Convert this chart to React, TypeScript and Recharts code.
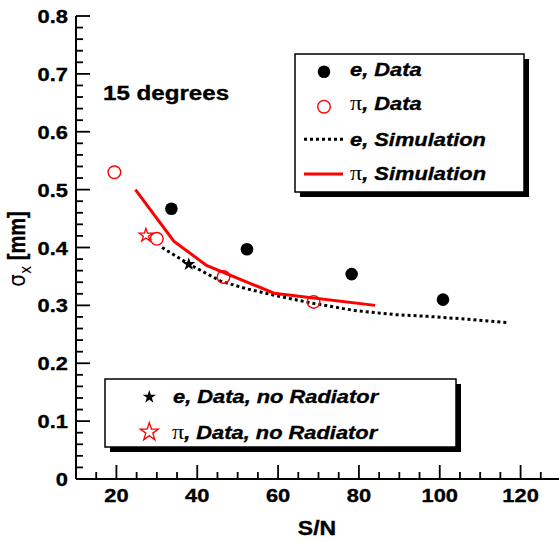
import React from 'react';
import { ComposedChart, Line, Scatter, XAxis, YAxis } from 'recharts';

// ---------- data ----------
const eDataX = [33.6, 52.3, 78.2, 100.8];
const eDataY = [0.467, 0.397, 0.354, 0.31];
const piDataX = [19.5, 30.0, 46.5, 68.8];
const piDataY = [0.53, 0.415, 0.349, 0.306];
const eNoRadX = [37.9];
const eNoRadY = [0.371];
const piNoRadX = [27.3];
const piNoRadY = [0.421];
const eSimX = [31.3, 38, 45.8, 52, 60, 69, 79, 89, 97, 107, 117];
const eSimY = [0.4, 0.371, 0.342, 0.329, 0.316, 0.303, 0.291, 0.284, 0.281, 0.276, 0.27];
const piSimX = [24.7, 34.2, 42.3, 59, 84];
const piSimY = [0.5, 0.411, 0.369, 0.321, 0.3];

const xMajorTicks = [20, 40, 60, 80, 100, 120];
const yMajorTicks = [0, 0.1, 0.2, 0.3, 0.4, 0.5, 0.6, 0.7, 0.8];
const xTicks = [15, 20, 25, 30, 35, 40, 45, 50, 55, 60, 65, 70, 75, 80, 85, 90, 95, 100, 105, 110, 115, 120, 125];
const yTicks = Array.from({ length: 41 }, (_, k) => Math.round(k * 2) / 100);

const zip = (xs: number[], ys: number[]) => xs.map((x, i) => ({ x, y: ys[i] }));
const eData = zip(eDataX, eDataY);
const piData = zip(piDataX, piDataY);
const eNoRad = zip(eNoRadX, eNoRadY);
const piNoRad = zip(piNoRadX, piNoRadY);
const eSim = zip(eSimX, eSimY);
const piSim = zip(piSimX, piSimY);

// ---------- styling ----------
const FONT = '"Liberation Sans", Arial, Helvetica, sans-serif';
const SERIF = '"Liberation Serif", "DejaVu Serif", serif';
const RED = '#ff0000';
const SX = 1.15;
const MAJOR = 14;
const MINOR = 7;

const isMajorX = (v: number) => xMajorTicks.includes(v);
const isMajorY = (v: number) => yMajorTicks.some((m) => Math.abs(m - v) < 1e-6);

const starPoints = (cx: number, cy: number, r: number) => {
  const pts: string[] = [];
  const ri = r * 0.382;
  for (let i = 0; i < 10; i++) {
    const rad = i % 2 === 0 ? r : ri;
    const a = -Math.PI / 2 + (i * Math.PI) / 5;
    pts.push(`${cx + rad * Math.cos(a)},${cy + rad * Math.sin(a)}`);
  }
  return pts.join(' ');
};

const SText = ({ x, y, anchor = 'start', size, weight = 'bold', italic = false, children }: any) => (
  <g transform={`translate(${x},${y}) scale(${SX},1)`}>
    <text
      x={0}
      y={0}
      textAnchor={anchor}
      fontFamily={FONT}
      fontSize={size}
      fontWeight={weight}
      fontStyle={italic ? 'italic' : 'normal'}
      fill="#000"
      stroke="#000"
      strokeWidth={0.35}
    >
      {children}
    </text>
  </g>
);

const BottomTick = (props: any) => {
  const { x, y, payload } = props;
  const v = payload.value;
  const major = isMajorX(v);
  return (
    <g>
      <line x1={x} y1={y} x2={x} y2={y - (major ? MAJOR : MINOR)} stroke="#000" strokeWidth={1.8} />
      {major && <SText x={x} y={y + 23} anchor="middle" size={19}>{String(v)}</SText>}
    </g>
  );
};
const TopTick = (props: any) => {
  const { x, y, payload } = props;
  const major = isMajorX(payload.value);
  return <line x1={x} y1={y} x2={x} y2={y + (major ? MAJOR : MINOR)} stroke="#000" strokeWidth={1.8} />;
};
const LeftTick = (props: any) => {
  const { x, y, payload } = props;
  const v = payload.value;
  const major = isMajorY(v);
  return (
    <g>
      <line x1={x} y1={y} x2={x + (major ? MAJOR : MINOR)} y2={y} stroke="#000" strokeWidth={1.8} />
      {major && (
        <SText x={x - 8} y={y + 7} anchor="end" size={19}>
          {v === 0 ? '0' : v.toFixed(1)}
        </SText>
      )}
    </g>
  );
};
const RightTick = (props: any) => {
  const { x, y, payload } = props;
  const major = isMajorY(payload.value);
  return <line x1={x} y1={y} x2={x - (major ? MAJOR : MINOR)} y2={y} stroke="#000" strokeWidth={1.8} />;
};

const FilledCircle = (p: any) => <circle cx={p.cx} cy={p.cy} r={6.3} fill="#000" />;
const OpenCircle = (p: any) => <circle cx={p.cx} cy={p.cy} r={6.3} fill="none" stroke={RED} strokeWidth={1.4} />;
const FilledStar = (p: any) => <polygon points={starPoints(p.cx, p.cy, 7)} fill="#000" />;
const OpenStar = (p: any) => (
  <polygon points={starPoints(p.cx, p.cy, 7)} fill="none" stroke={RED} strokeWidth={1.3} />
);

const LegendText = ({ x, y, pi, label }: any) => (
  <g transform={`translate(${x},${y}) scale(${SX},1)`}>
    <text x={0} y={0} fontFamily={FONT} fontSize={19} fill="#000">
      {pi ? (
        <tspan fontFamily={SERIF} fontSize={21} fontWeight="normal" fontStyle="normal">
          π
        </tspan>
      ) : (
        <tspan fontWeight="bold" fontStyle="italic" stroke="#000" strokeWidth={0.35}>e</tspan>
      )}
      <tspan fontWeight="bold" fontStyle="italic" stroke="#000" strokeWidth={0.35}>{label}</tspan>
    </text>
  </g>
);

export default function App() {
  return (
    <div
      style={{
        position: 'absolute',
        left: 0,
        top: 0,
        width: 559,
        height: 542,
        overflow: 'hidden',
        background: '#fff',
      }}
    >
      <ComposedChart width={561} height={542} margin={{ top: 16, right: 0, bottom: 0, left: 0 }}>
        <XAxis
          xAxisId={0}
          dataKey="x"
          type="number"
          domain={[10, 130]}
          ticks={xTicks}
          interval={0}
          tickSize={0}
          tickMargin={0}
          tickLine={false}
          axisLine={{ stroke: '#000', strokeWidth: 2 }}
          tick={<BottomTick />}
          height={63}
          allowDataOverflow
        />
        <XAxis
          xAxisId="top"
          orientation="top"
          type="number"
          domain={[10, 130]}
          ticks={xTicks}
          interval={0}
          tickSize={0}
          tickMargin={0}
          tickLine={false}
          axisLine={{ stroke: '#000', strokeWidth: 2 }}
          tick={<TopTick />}
          height={0}
          allowDataOverflow
        />
        <YAxis
          yAxisId={0}
          dataKey="y"
          type="number"
          domain={[0, 0.8]}
          ticks={yTicks}
          interval={0}
          tickSize={0}
          tickMargin={0}
          tickLine={false}
          axisLine={{ stroke: '#000', strokeWidth: 2 }}
          tick={<LeftTick />}
          width={76}
          allowDataOverflow
        />
        <YAxis
          yAxisId="right"
          orientation="right"
          type="number"
          domain={[0, 0.8]}
          ticks={yTicks}
          interval={0}
          tickSize={0}
          tickMargin={0}
          tickLine={false}
          axisLine={{ stroke: '#000', strokeWidth: 2 }}
          tick={<RightTick />}
          width={0}
          allowDataOverflow
        />
        <Line
          data={eSim}
          dataKey="y"
          type="linear"
          stroke="#000"
          strokeWidth={3}
          strokeDasharray="3 3"
          dot={false}
          activeDot={false}
          isAnimationActive={false}
        />
        <Line
          data={piSim}
          dataKey="y"
          type="linear"
          stroke={RED}
          strokeWidth={3}
          dot={false}
          activeDot={false}
          isAnimationActive={false}
        />
        <Scatter data={eData} dataKey="y" shape={FilledCircle} isAnimationActive={false} />
        <Scatter data={piData} dataKey="y" shape={OpenCircle} isAnimationActive={false} />
        <Scatter data={eNoRad} dataKey="y" shape={FilledStar} isAnimationActive={false} />
        <Scatter data={piNoRad} dataKey="y" shape={OpenStar} isAnimationActive={false} />
      </ComposedChart>

      <svg
        width={559}
        height={542}
        style={{ position: 'absolute', left: 0, top: 0, pointerEvents: 'none' }}
      >
        {/* annotation */}
        <SText x={103} y={100} size={21}>15 degrees</SText>

        {/* axis titles */}
        <SText x={317} y={535} anchor="middle" size={20}>S/N</SText>
        <g transform="translate(25,249) scale(1.15,1) rotate(-90)">
          <text x={0} y={0} textAnchor="middle" fontFamily={FONT} fontSize={20} fill="#000">
            <tspan fontFamily='"DejaVu Sans", sans-serif' fontWeight="normal">σ</tspan>
            <tspan fontSize={14} dy={5} fontWeight="normal" fontFamily='"DejaVu Sans", sans-serif'>x</tspan>
            <tspan dy={-5} fontWeight="bold" stroke="#000" strokeWidth={0.35}> [mm]</tspan>
          </text>
        </g>

        {/* legend box 1 */}
        <rect x={300} y={59} width={229} height={138} fill="#000" />
        <rect x={295} y={54} width={229} height={138} fill="#fff" stroke="#000" strokeWidth={1.5} />
        <circle cx={324} cy={71.7} r={6.3} fill="#000" />
        <LegendText x={350} y={76} label=", Data" />
        <circle cx={324} cy={106.7} r={6.3} fill="none" stroke={RED} strokeWidth={1.4} />
        <LegendText x={350} y={109.5} pi label=", Data" />
        <line x1={304} y1={139.3} x2={343} y2={139.3} stroke="#000" strokeWidth={3} strokeDasharray="3 3" />
        <LegendText x={350} y={145.7} label=", Simulation" />
        <line x1={304} y1={174} x2={343} y2={174} stroke={RED} strokeWidth={3} />
        <LegendText x={350} y={180} pi label=", Simulation" />

        {/* legend box 2 */}
        <rect x={110} y={384} width={351} height={68} fill="#000" />
        <rect x={105} y={379} width={351} height={68} fill="#fff" stroke="#000" strokeWidth={1.5} />
        <polygon points={starPoints(149.3, 397, 7)} fill="#000" />
        <LegendText x={173} y={403.3} label=", Data, no Radiator" />
        <polygon points={starPoints(149.3, 432, 9.5)} fill="none" stroke={RED} strokeWidth={1.3} />
        <LegendText x={172} y={439.3} pi label=", Data, no Radiator" />
      </svg>
    </div>
  );
}
